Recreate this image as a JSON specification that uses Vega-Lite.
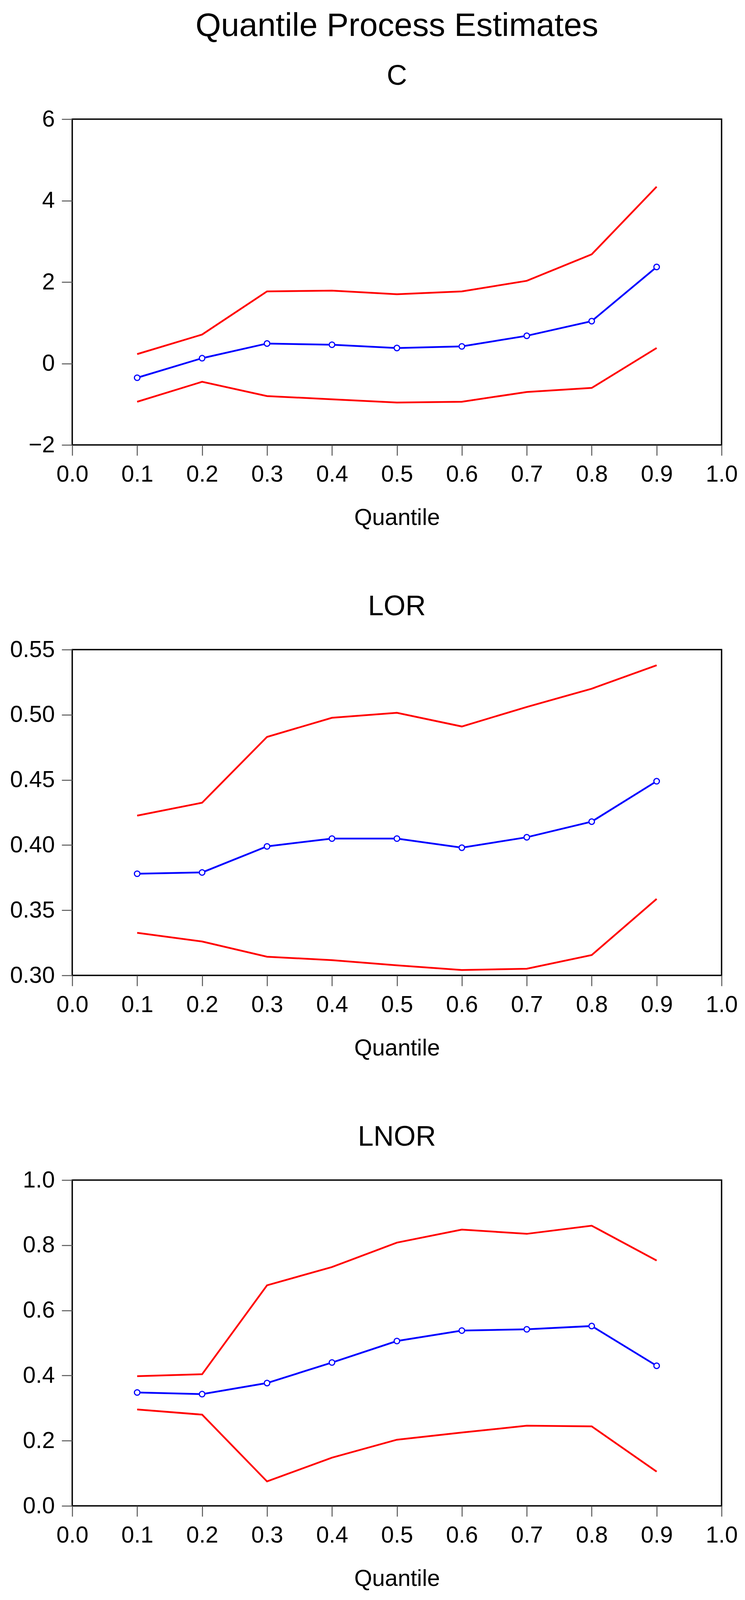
{
  "$schema": "https://vega.github.io/schema/vega-lite/v6.json",
  "background": "white",
  "padding": {"left": 23, "top": 23, "right": 10, "bottom": 10},
  "spacing": 158,
  "datasets": {
    "c": [
      {"q": 0.1, "coef": -0.35, "lower": -0.94, "upper": 0.23},
      {"q": 0.2, "coef": 0.13, "lower": -0.45, "upper": 0.71},
      {"q": 0.3, "coef": 0.49, "lower": -0.80, "upper": 1.77},
      {"q": 0.4, "coef": 0.46, "lower": -0.88, "upper": 1.79},
      {"q": 0.5, "coef": 0.38, "lower": -0.96, "upper": 1.70},
      {"q": 0.6, "coef": 0.42, "lower": -0.94, "upper": 1.77},
      {"q": 0.7, "coef": 0.68, "lower": -0.70, "upper": 2.03},
      {"q": 0.8, "coef": 1.04, "lower": -0.60, "upper": 2.68},
      {"q": 0.9, "coef": 2.37, "lower": 0.38, "upper": 4.34}
    ],
    "lor": [
      {"q": 0.1, "coef": 0.378, "lower": 0.3327, "upper": 0.4226},
      {"q": 0.2, "coef": 0.379, "lower": 0.326, "upper": 0.4325},
      {"q": 0.3, "coef": 0.399, "lower": 0.3143, "upper": 0.483},
      {"q": 0.4, "coef": 0.405, "lower": 0.3117, "upper": 0.4977},
      {"q": 0.5, "coef": 0.405, "lower": 0.3077, "upper": 0.5015},
      {"q": 0.6, "coef": 0.398, "lower": 0.3041, "upper": 0.491},
      {"q": 0.7, "coef": 0.406, "lower": 0.3051, "upper": 0.506},
      {"q": 0.8, "coef": 0.418, "lower": 0.3156, "upper": 0.520},
      {"q": 0.9, "coef": 0.449, "lower": 0.3587, "upper": 0.538}
    ],
    "lnor": [
      {"q": 0.1, "coef": 0.348, "lower": 0.296, "upper": 0.398},
      {"q": 0.2, "coef": 0.343, "lower": 0.280, "upper": 0.404},
      {"q": 0.3, "coef": 0.377, "lower": 0.075, "upper": 0.677},
      {"q": 0.4, "coef": 0.440, "lower": 0.148, "upper": 0.733},
      {"q": 0.5, "coef": 0.506, "lower": 0.203, "upper": 0.808},
      {"q": 0.6, "coef": 0.538, "lower": 0.225, "upper": 0.848},
      {"q": 0.7, "coef": 0.542, "lower": 0.246, "upper": 0.835},
      {"q": 0.8, "coef": 0.552, "lower": 0.244, "upper": 0.860},
      {"q": 0.9, "coef": 0.430, "lower": 0.105, "upper": 0.753}
    ]
  },
  "vconcat": [
    {
      "width": 1663,
      "height": 834,
      "title": {"text": "Quantile Process Estimates", "fontSize": 84, "subtitle": "C", "subtitlePadding": 50},
      "data": {"name": "c"},
      "encoding": {
        "x": {"field": "q", "type": "quantitative", "scale": {"domain": [0, 1], "nice": false, "zero": false},
              "axis": {"title": "Quantile", "values": [0, 0.1, 0.2, 0.3, 0.4, 0.5, 0.6, 0.7, 0.8, 0.9, 1.0], "format": ".1f"}}
      },
      "layer": [
        {"mark": {"type": "line", "color": "#ff0000", "strokeWidth": 4.5},
         "encoding": {"y": {"field": "upper", "type": "quantitative", "scale": {"domain": [-2, 6], "nice": false, "zero": false},
                            "axis": {"title": null, "values": [-2, 0, 2, 4, 6], "format": "d"}}}},
        {"mark": {"type": "line", "color": "#ff0000", "strokeWidth": 4.5},
         "encoding": {"y": {"field": "lower", "type": "quantitative"}}},
        {"mark": {"type": "line", "color": "#0000ff", "strokeWidth": 4.5,
                  "point": {"filled": false, "fill": "white", "stroke": "#0000ff", "strokeWidth": 3, "size": 200}},
         "encoding": {"y": {"field": "coef", "type": "quantitative"}}}
      ]
    },
    {
      "width": 1663,
      "height": 834,
      "title": {"text": "LOR"},
      "data": {"name": "lor"},
      "encoding": {
        "x": {"field": "q", "type": "quantitative", "scale": {"domain": [0, 1], "nice": false, "zero": false},
              "axis": {"title": "Quantile", "values": [0, 0.1, 0.2, 0.3, 0.4, 0.5, 0.6, 0.7, 0.8, 0.9, 1.0], "format": ".1f"}}
      },
      "layer": [
        {"mark": {"type": "line", "color": "#ff0000", "strokeWidth": 4.5},
         "encoding": {"y": {"field": "upper", "type": "quantitative", "scale": {"domain": [0.3, 0.55], "nice": false, "zero": false},
                            "axis": {"title": null, "values": [0.3, 0.35, 0.4, 0.45, 0.5, 0.55], "format": ".2f"}}}},
        {"mark": {"type": "line", "color": "#ff0000", "strokeWidth": 4.5},
         "encoding": {"y": {"field": "lower", "type": "quantitative"}}},
        {"mark": {"type": "line", "color": "#0000ff", "strokeWidth": 4.5,
                  "point": {"filled": false, "fill": "white", "stroke": "#0000ff", "strokeWidth": 3, "size": 200}},
         "encoding": {"y": {"field": "coef", "type": "quantitative"}}}
      ]
    },
    {
      "width": 1663,
      "height": 834,
      "title": {"text": "LNOR"},
      "data": {"name": "lnor"},
      "encoding": {
        "x": {"field": "q", "type": "quantitative", "scale": {"domain": [0, 1], "nice": false, "zero": false},
              "axis": {"title": "Quantile", "values": [0, 0.1, 0.2, 0.3, 0.4, 0.5, 0.6, 0.7, 0.8, 0.9, 1.0], "format": ".1f"}}
      },
      "layer": [
        {"mark": {"type": "line", "color": "#ff0000", "strokeWidth": 4.5},
         "encoding": {"y": {"field": "upper", "type": "quantitative", "scale": {"domain": [0, 1], "nice": false, "zero": false},
                            "axis": {"title": null, "values": [0, 0.2, 0.4, 0.6, 0.8, 1.0], "format": ".1f"}}}},
        {"mark": {"type": "line", "color": "#ff0000", "strokeWidth": 4.5},
         "encoding": {"y": {"field": "lower", "type": "quantitative"}}},
        {"mark": {"type": "line", "color": "#0000ff", "strokeWidth": 4.5,
                  "point": {"filled": false, "fill": "white", "stroke": "#0000ff", "strokeWidth": 3, "size": 200}},
         "encoding": {"y": {"field": "coef", "type": "quantitative"}}}
      ]
    }
  ],
  "config": {
    "font": "Liberation Sans",
    "view": {"stroke": "#000000", "strokeWidth": 3.5},
    "axis": {
      "domain": false, "grid": false, "ticks": true,
      "tickColor": "#555555", "tickWidth": 2.5, "tickSize": 27,
      "labelFont": "Liberation Sans", "labelFontSize": 59, "labelColor": "#000000",
      "labelOverlap": false, "labelFlush": false,
      "titleFont": "Liberation Sans", "titleFontSize": 59, "titleFontWeight": "normal", "titleColor": "#000000"
    },
    "axisX": {"labelPadding": 19, "titlePadding": 52},
    "axisY": {"labelPadding": 18},
    "title": {
      "font": "Liberation Sans", "fontSize": 72, "fontWeight": "normal", "color": "#000000",
      "anchor": "middle", "frame": "group", "offset": 44,
      "subtitleFont": "Liberation Sans", "subtitleFontSize": 72, "subtitleColor": "#000000"
    }
  }
}
